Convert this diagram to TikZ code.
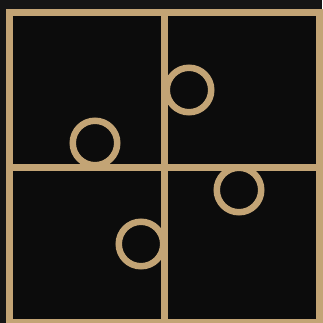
\documentclass[tikz,border=0pt]{standalone}
\definecolor{bgout}{HTML}{151515}
\definecolor{bgin}{HTML}{0C0C0C}
\definecolor{tan}{HTML}{C3A475}
\begin{document}
\begin{tikzpicture}[x=1pt,y=-1pt,
  frame/.style={draw=tan,line width=7pt},
  ring/.style={circle,draw=tan,line width=6.5pt,minimum size=44.5pt,inner sep=0pt}]
\fill[bgout] (0,0) rectangle (322,323);
\useasboundingbox (0,0) rectangle (322,323);
\fill[bgin] (9.5,12.5) rectangle (319.5,322);
\draw[frame] (9.5,12.5) rectangle (319.5,322);
\draw[frame] (164.5,12.5) -- (164.5,322);
\draw[frame] (9.5,167.5) -- (319.5,167.5);
\node[ring] (c1) at (189,90) {};
\node[ring] (c2) at (95,143) {};
\node[ring] (c3) at (239,190) {};
\node[ring] (c4) at (141,244) {};
\end{tikzpicture}
\end{document}
